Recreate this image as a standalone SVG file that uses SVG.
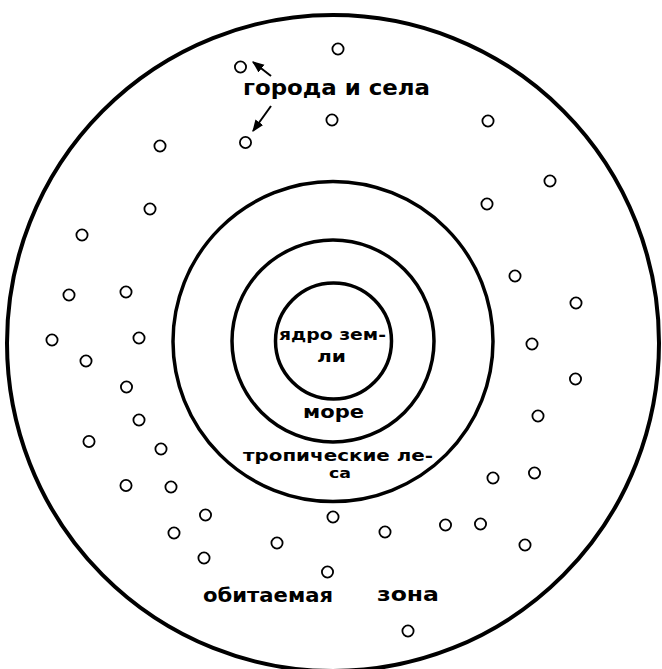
<svg xmlns="http://www.w3.org/2000/svg" width="662" height="669" viewBox="0 0 662 669">
  <style>
    .ring { fill: none; stroke: #000; }
    .town { fill: none; stroke: #000; stroke-width: 1.8; }
    .lbl { font-family: "DejaVu Sans", "Liberation Sans", sans-serif; font-weight: bold; fill: #000; }
    .conn { stroke: #000; stroke-width: 2; fill: none; }
  </style>
  <defs>
    <marker id="ah" viewBox="0 0 10 10" refX="9" refY="5" markerWidth="6" markerHeight="6" orient="auto" markerUnits="strokeWidth">
      <path d="M0,1 L10,5 L0,9 Z" fill="#000"/>
    </marker>
  </defs>
  <rect width="662" height="669" fill="#fff"/>

  <g id="inhabited-zone">
    <ellipse class="ring" cx="333" cy="343" rx="326" ry="328" stroke-width="4"/>
    <text class="lbl" x="203" y="602" font-size="19" textLength="130" lengthAdjust="spacingAndGlyphs">обитаемая</text>
    <text class="lbl" x="377" y="601" font-size="20" textLength="62" lengthAdjust="spacingAndGlyphs">зона</text>
  </g>

  <g id="tropical-forest">
    <circle class="ring" cx="333" cy="341.5" r="160" stroke-width="3.5"/>
    <text class="lbl" x="243" y="461" font-size="15" textLength="190" lengthAdjust="spacingAndGlyphs">тропические ле-</text>
    <text class="lbl" x="329" y="478" font-size="14" textLength="22" lengthAdjust="spacingAndGlyphs">са</text>
  </g>

  <g id="sea">
    <circle class="ring" cx="333" cy="341" r="101" stroke-width="3.5"/>
    <text class="lbl" x="303" y="418" font-size="17" textLength="61" lengthAdjust="spacingAndGlyphs">море</text>
  </g>

  <g id="earth-core">
    <circle class="ring" cx="333.5" cy="341" r="58" stroke-width="3.5"/>
    <text class="lbl" x="279" y="340" font-size="15" textLength="107" lengthAdjust="spacingAndGlyphs">ядро зем-</text>
    <text class="lbl" x="317" y="362" font-size="15" textLength="29" lengthAdjust="spacingAndGlyphs">ли</text>
  </g>

  <g id="towns-label">
    <text class="lbl" x="243" y="95" font-size="21" textLength="187" lengthAdjust="spacingAndGlyphs">города и села</text>
  </g>

  <g id="towns">
    <circle class="town" cx="338" cy="49" r="5.6"/>
    <circle class="town" cx="240.5" cy="67" r="5.6"/>
    <circle class="town" cx="332" cy="120" r="5.6"/>
    <circle class="town" cx="488" cy="121" r="5.6"/>
    <circle class="town" cx="160" cy="146" r="5.6"/>
    <circle class="town" cx="245.5" cy="142.5" r="5.6"/>
    <circle class="town" cx="550" cy="181" r="5.6"/>
    <circle class="town" cx="150" cy="209" r="5.6"/>
    <circle class="town" cx="487" cy="204" r="5.6"/>
    <circle class="town" cx="82" cy="235" r="5.6"/>
    <circle class="town" cx="515" cy="276" r="5.6"/>
    <circle class="town" cx="69" cy="295" r="5.6"/>
    <circle class="town" cx="126" cy="292" r="5.6"/>
    <circle class="town" cx="576" cy="303" r="5.6"/>
    <circle class="town" cx="52" cy="340" r="5.6"/>
    <circle class="town" cx="139" cy="338" r="5.6"/>
    <circle class="town" cx="532" cy="344" r="5.6"/>
    <circle class="town" cx="86" cy="361" r="5.6"/>
    <circle class="town" cx="575.5" cy="379" r="5.6"/>
    <circle class="town" cx="126.5" cy="387" r="5.6"/>
    <circle class="town" cx="139" cy="420" r="5.6"/>
    <circle class="town" cx="538" cy="416" r="5.6"/>
    <circle class="town" cx="89" cy="441.5" r="5.6"/>
    <circle class="town" cx="161" cy="449" r="5.6"/>
    <circle class="town" cx="126" cy="485.5" r="5.6"/>
    <circle class="town" cx="171" cy="487" r="5.6"/>
    <circle class="town" cx="493" cy="478" r="5.6"/>
    <circle class="town" cx="534.5" cy="473" r="5.6"/>
    <circle class="town" cx="205.5" cy="515" r="5.6"/>
    <circle class="town" cx="333" cy="517" r="5.6"/>
    <circle class="town" cx="174" cy="533" r="5.6"/>
    <circle class="town" cx="385" cy="532" r="5.6"/>
    <circle class="town" cx="445.5" cy="525" r="5.6"/>
    <circle class="town" cx="480.5" cy="524" r="5.6"/>
    <circle class="town" cx="277" cy="543" r="5.6"/>
    <circle class="town" cx="525" cy="545" r="5.6"/>
    <circle class="town" cx="204" cy="558" r="5.6"/>
    <circle class="town" cx="327.5" cy="572" r="5.6"/>
    <circle class="town" cx="408" cy="631" r="5.6"/>
  </g>

  <g id="connectors">
    <path class="conn" d="M271,76 L253,62" marker-end="url(#ah)"/>
    <path class="conn" d="M271,106 L253,131" marker-end="url(#ah)"/>
  </g>
</svg>
